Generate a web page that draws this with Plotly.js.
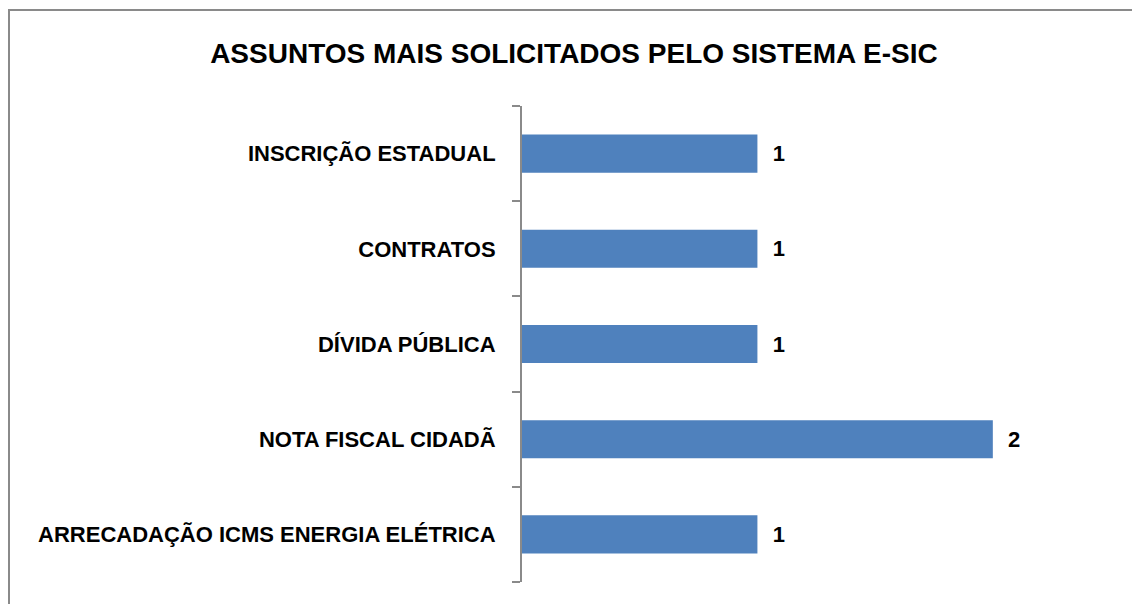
<!DOCTYPE html>
<html><head><meta charset="utf-8">
<script src="https://cdn.plot.ly/plotly-3.0.1.min.js"></script>
<style>
html,body{margin:0;padding:0;background:#fff;}
#frame{position:absolute;left:8px;top:9px;width:2000px;height:2000px;border-left:2px solid #8a8a8a;border-top:2px solid #8a8a8a;}
#chart{position:absolute;left:0;top:0;width:1132px;height:604px;}
</style></head>
<body>
<div id="frame"></div>
<div id="chart"></div>
<script>
const categories = ["ARRECADAÇÃO ICMS ENERGIA ELÉTRICA", "NOTA FISCAL CIDADÃ", "DÍVIDA PÚBLICA", "CONTRATOS", "INSCRIÇÃO ESTADUAL"];
const values = [1, 2, 1, 1, 1];
const chartTitle = "ASSUNTOS MAIS SOLICITADOS PELO SISTEMA E-SIC";

const fontFam = "Liberation Sans, Arial, sans-serif";
Plotly.newPlot('chart', [{
  type: 'bar',
  orientation: 'h',
  y: categories,
  x: values,
  marker: {color: '#4F81BD'},
  text: values.map(v => '\u00a0\u00a0' + v),
  textposition: 'outside',
  cliponaxis: false,
  textfont: {family: fontFam, size: 22, color: '#000', weight: 'bold'},
  hoverinfo: 'none'
}], {
  width: 1132, height: 604,
  margin: {l: 522, r: 45, t: 106, b: 22},
  paper_bgcolor: 'rgba(0,0,0,0)',
  plot_bgcolor: 'rgba(0,0,0,0)',
  bargap: 0.6,
  showlegend: false,
  title: {text: '<b>' + chartTitle + '</b>', x: 0.507, xref: 'container', y: 0.912, yref: 'container', yanchor: 'middle', xanchor: 'center',
    font: {family: fontFam, size: 28, color: '#000'}},
  xaxis: {range: [0, 2.4], visible: false, fixedrange: true},
  yaxis: {type: 'category', tickson: 'boundaries', ticks: 'outside', ticklen: 8, tickwidth: 2, tickcolor: '#8a8a8a',
    showline: true, linecolor: '#8a8a8a', linewidth: 2, showgrid: false, ticklabelstandoff: 20,
    tickfont: {family: fontFam, size: 22, color: '#000', weight: 'bold'}, automargin: false}
}, {displayModeBar: false, staticPlot: true});
</script>
</body></html>
